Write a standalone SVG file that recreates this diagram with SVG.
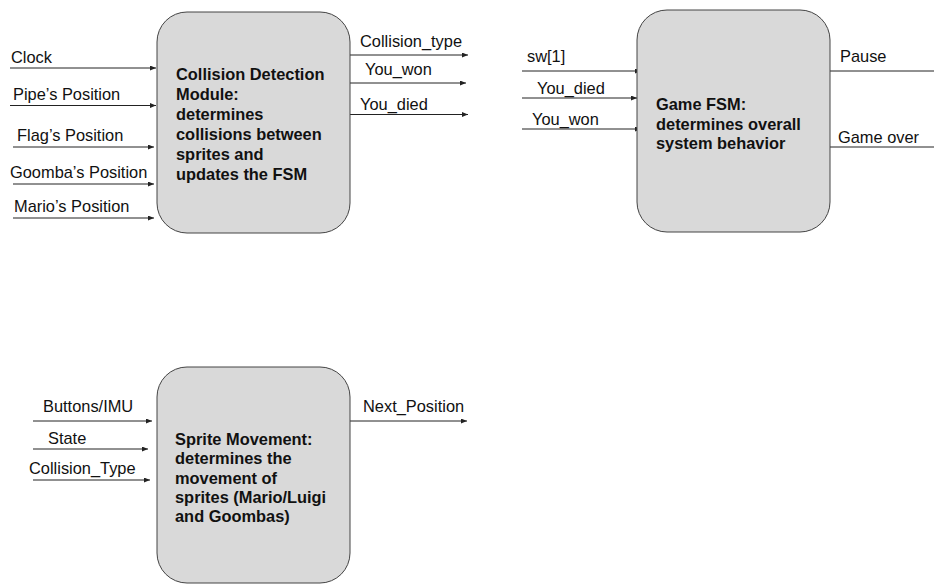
<svg xmlns="http://www.w3.org/2000/svg" width="934" height="585" viewBox="0 0 934 585">
  <defs>
    <marker id="arrow" markerWidth="6" markerHeight="5" refX="6" refY="2.5" orient="auto" markerUnits="userSpaceOnUse">
      <path d="M0,0 L6,2.5 L0,5 Z" fill="#222"/>
    </marker>
    <style>
      .box { fill: #d9d9d9; stroke: #444; stroke-width: 1; }
      .title { font-family: "Liberation Sans", Arial, sans-serif; font-size: 16.4px; font-weight: bold; fill: #111; }
      .lbl { font-family: "Liberation Sans", Arial, sans-serif; font-size: 16.4px; fill: #111; }
      .wire { stroke: #222; stroke-width: 1; fill: none; }
      .arr { marker-end: url(#arrow); }
    </style>
  </defs>
  <rect width="934" height="585" fill="#fff"/>

  <!-- wires between blocks and their labels -->
  <g id="connectors">
    <!-- collision detection inputs -->
    <line class="wire arr" x1="10" y1="68" x2="156" y2="68"/>
    <line class="wire arr" x1="10" y1="105.5" x2="156" y2="105.5"/>
    <line class="wire arr" x1="13" y1="147" x2="154" y2="147"/>
    <line class="wire arr" x1="13" y1="184" x2="154" y2="184"/>
    <line class="wire arr" x1="13" y1="218" x2="154" y2="218"/>
    <text class="lbl" x="11" y="63">Clock</text>
    <text class="lbl" x="13" y="100">Pipe’s Position</text>
    <text class="lbl" x="17" y="141">Flag’s Position</text>
    <text class="lbl" x="10" y="178">Goomba’s Position</text>
    <text class="lbl" x="14" y="212">Mario’s Position</text>
    <!-- collision detection outputs -->
    <line class="wire arr" x1="350" y1="55" x2="468" y2="55"/>
    <line class="wire arr" x1="350" y1="83" x2="466" y2="83"/>
    <line class="wire arr" x1="350" y1="114.5" x2="468" y2="114.5"/>
    <text class="lbl" x="360" y="47">Collision_type</text>
    <text class="lbl" x="365" y="75">You_won</text>
    <text class="lbl" x="360" y="110">You_died</text>

    <!-- game FSM inputs -->
    <line class="wire arr" x1="522" y1="71" x2="641" y2="71"/>
    <line class="wire arr" x1="522" y1="98" x2="637" y2="98"/>
    <line class="wire arr" x1="522" y1="129" x2="641" y2="129"/>
    <text class="lbl" x="527" y="62">sw[1]</text>
    <text class="lbl" x="537" y="94">You_died</text>
    <text class="lbl" x="532" y="125">You_won</text>
    <!-- game FSM outputs -->
    <line class="wire" x1="825" y1="71" x2="934" y2="71"/>
    <line class="wire" x1="825" y1="147" x2="934" y2="147"/>
    <text class="lbl" x="840" y="62">Pause</text>
    <text class="lbl" x="838" y="143">Game over</text>

    <!-- sprite movement inputs -->
    <line class="wire arr" x1="33" y1="421" x2="152" y2="421"/>
    <line class="wire arr" x1="33" y1="449" x2="148" y2="449"/>
    <line class="wire arr" x1="33" y1="480" x2="150" y2="480"/>
    <text class="lbl" x="43" y="412">Buttons/IMU</text>
    <text class="lbl" x="48" y="444">State</text>
    <text class="lbl" x="29" y="474">Collision_Type</text>
    <!-- sprite movement output -->
    <line class="wire arr" x1="350" y1="421" x2="467" y2="421"/>
    <text class="lbl" x="363" y="412">Next_Position</text>
  </g>

  <g id="collision-detection">
    <rect class="box" x="157" y="12" width="193" height="221" rx="30" ry="30"/>
    <text class="title" x="176" y="80">Collision Detection</text>
    <text class="title" x="176" y="100">Module:</text>
    <text class="title" x="176" y="120">determines</text>
    <text class="title" x="176" y="140">collisions between</text>
    <text class="title" x="176" y="160">sprites and</text>
    <text class="title" x="176" y="180">updates the FSM</text>
  </g>

  <g id="game-fsm">
    <rect class="box" x="637" y="10" width="193" height="222" rx="30" ry="30"/>
    <text class="title" x="656" y="110">Game FSM:</text>
    <text class="title" x="656" y="129.5">determines overall</text>
    <text class="title" x="656" y="149">system behavior</text>
  </g>

  <g id="sprite-movement">
    <rect class="box" x="157" y="367" width="193" height="216" rx="30" ry="30"/>
    <text class="title" x="175" y="445">Sprite Movement:</text>
    <text class="title" x="175" y="464">determines the</text>
    <text class="title" x="175" y="483.5">movement of</text>
    <text class="title" x="175" y="503">sprites (Mario/Luigi</text>
    <text class="title" x="175" y="522">and Goombas)</text>
  </g>
</svg>
